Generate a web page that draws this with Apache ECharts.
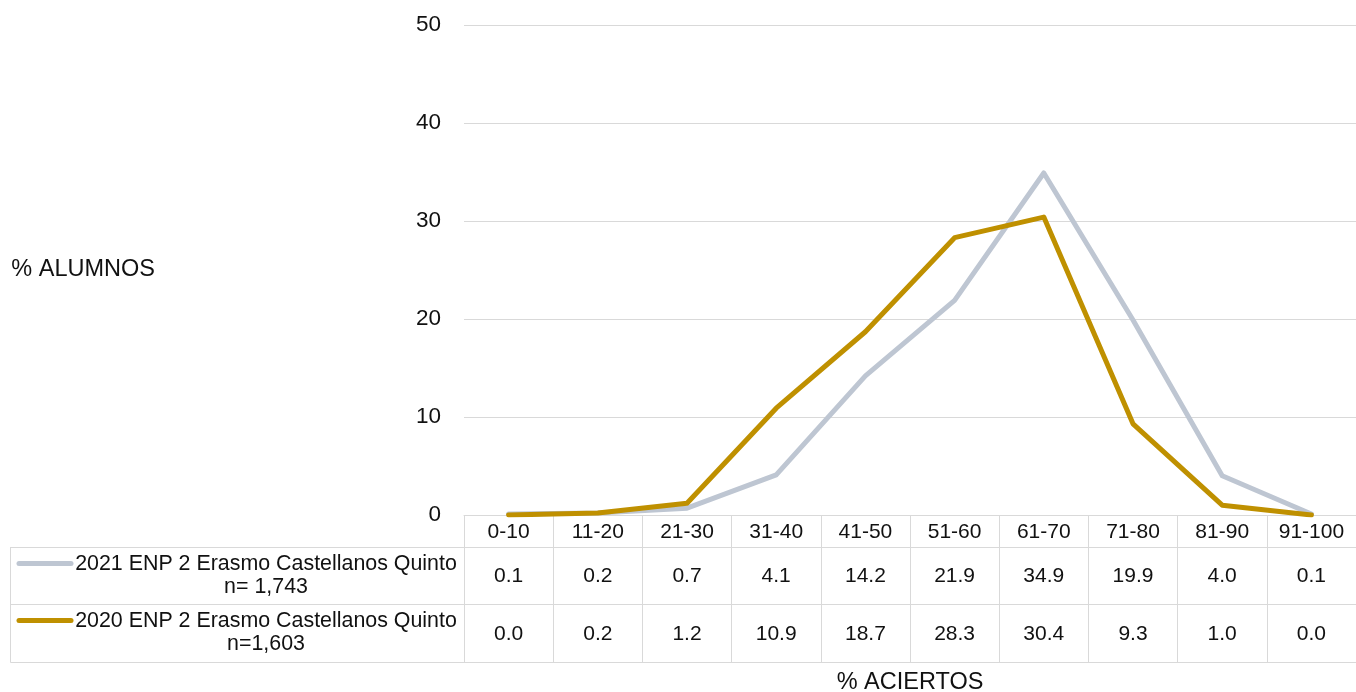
<!DOCTYPE html>
<html>
<head>
<meta charset="utf-8">
<script src="https://cdn.jsdelivr.net/npm/echarts@6/dist/echarts.min.js"></script>
<style>
html,body{margin:0;padding:0;background:#fff;}
#c{width:1356px;height:692px;}
</style>
</head>
<body>
<div id="c"></div>
<script>
const categories = ['0-10','11-20','21-30','31-40','41-50','51-60','61-70','71-80','81-90','91-100'];
const values2021 = [0.1, 0.2, 0.7, 4.1, 14.2, 21.9, 34.9, 19.9, 4.0, 0.1];
const values2020 = [0.0, 0.2, 1.2, 10.9, 18.7, 28.3, 30.4, 9.3, 1.0, 0.0];
const seriesNames = ['2021 ENP 2 Erasmo Castellanos Quinto', '2020 ENP 2 Erasmo Castellanos Quinto'];
const seriesN = ['n= 1,743', 'n=1,603'];
const yTicks = [0, 50, 10];
const yTitle = '% ALUMNOS';
const xTitle = '% ACIERTOS';

const colors = ['#bec6d2', '#bf9000'];
const gridCol = '#d9d9d9';
const txt = '#111';
const FONT = 'Liberation Sans, Arial, sans-serif';

const chart = echarts.init(document.getElementById('c'));

function tableAxis(data, offset, tickLen, margin, extra) {
  return Object.assign({
    type: 'category', data: data, position: 'bottom', offset: offset,
    boundaryGap: true,
    axisLine: { show: true, lineStyle: { color: gridCol, width: 1 } },
    axisTick: { show: true, interval: 0, length: tickLen, lineStyle: { color: gridCol, width: 1 } },
    axisLabel: { show: true, interval: 0, margin: margin, verticalAlign: 'middle', fontSize: 21, color: txt, fontFamily: FONT },
    splitLine: { show: false }
  }, extra || {});
}

const legendGraphics = [];
const rowCenters = [575.5, 632.5];
seriesNames.forEach((nm, i) => {
  const cy = rowCenters[i];
  legendGraphics.push({
    type: 'line', shape: { x1: 19, y1: cy - 12, x2: 71, y2: cy - 12 },
    style: { stroke: colors[i], lineWidth: 5, lineCap: 'round' }
  });
  legendGraphics.push({
    type: 'text', x: 266, y: cy,
    style: { text: nm + '\n' + seriesN[i], font: '21.4px ' + FONT, fill: txt, align: 'center', verticalAlign: 'middle', lineHeight: 23 }
  });
});
[547, 604, 662].forEach(y => legendGraphics.push({ type: 'line', shape: { x1: 10.5, y1: y + 0.5, x2: 464, y2: y + 0.5 }, style: { stroke: gridCol, lineWidth: 1 } }));
legendGraphics.push({ type: 'line', shape: { x1: 10.5, y1: 547, x2: 10.5, y2: 662.5 }, style: { stroke: gridCol, lineWidth: 1 } });

const option = {
  animation: false,
  backgroundColor: '#fff',
  textStyle: { fontFamily: FONT },
  grid: { left: 464, right: 0, top: 25, height: 490, containLabel: false, outerBoundsMode: 'none' },
  xAxis: [
    tableAxis(categories, 0, 32, 17),
    tableAxis(values2021.map(v => v.toFixed(1)), 32, 57, 29.5),
    tableAxis(values2020.map(v => v.toFixed(1)), 89, 58, 30),
    tableAxis(categories, 147, 0, 0, {
      axisLabel: { show: false }, axisTick: { show: false },
      name: xTitle, nameLocation: 'middle', nameGap: 21,
      nameTextStyle: { fontSize: 23.5, color: txt, fontFamily: FONT, verticalAlign: 'middle' }
    })
  ],
  yAxis: {
    type: 'value', min: yTicks[0], max: yTicks[1], interval: yTicks[2],
    axisLine: { show: false }, axisTick: { show: false },
    splitLine: { show: true, lineStyle: { color: gridCol, width: 1 } },
    axisLabel: { fontSize: 22.5, color: txt, margin: 23, fontFamily: FONT, padding: [5, 0, 0, 0] },
    name: yTitle, nameLocation: 'middle', nameRotate: 0, nameGap: 309,
    nameTextStyle: { fontSize: 23.5, color: txt, fontFamily: FONT, align: 'right', verticalAlign: 'middle', padding: [24, 0, 0, 0] }
  },
  series: [
    { name: seriesNames[0], type: 'line', data: values2021, xAxisIndex: 0, symbol: 'none',
      lineStyle: { color: colors[0], width: 5, cap: 'round', join: 'round' }, itemStyle: { color: colors[0] }, z: 3 },
    { name: seriesNames[1], type: 'line', data: values2020, xAxisIndex: 0, symbol: 'none',
      lineStyle: { color: colors[1], width: 5, cap: 'round', join: 'round' }, itemStyle: { color: colors[1] }, z: 4 }
  ],
  graphic: legendGraphics
};
chart.setOption(option);
</script>
</body>
</html>
